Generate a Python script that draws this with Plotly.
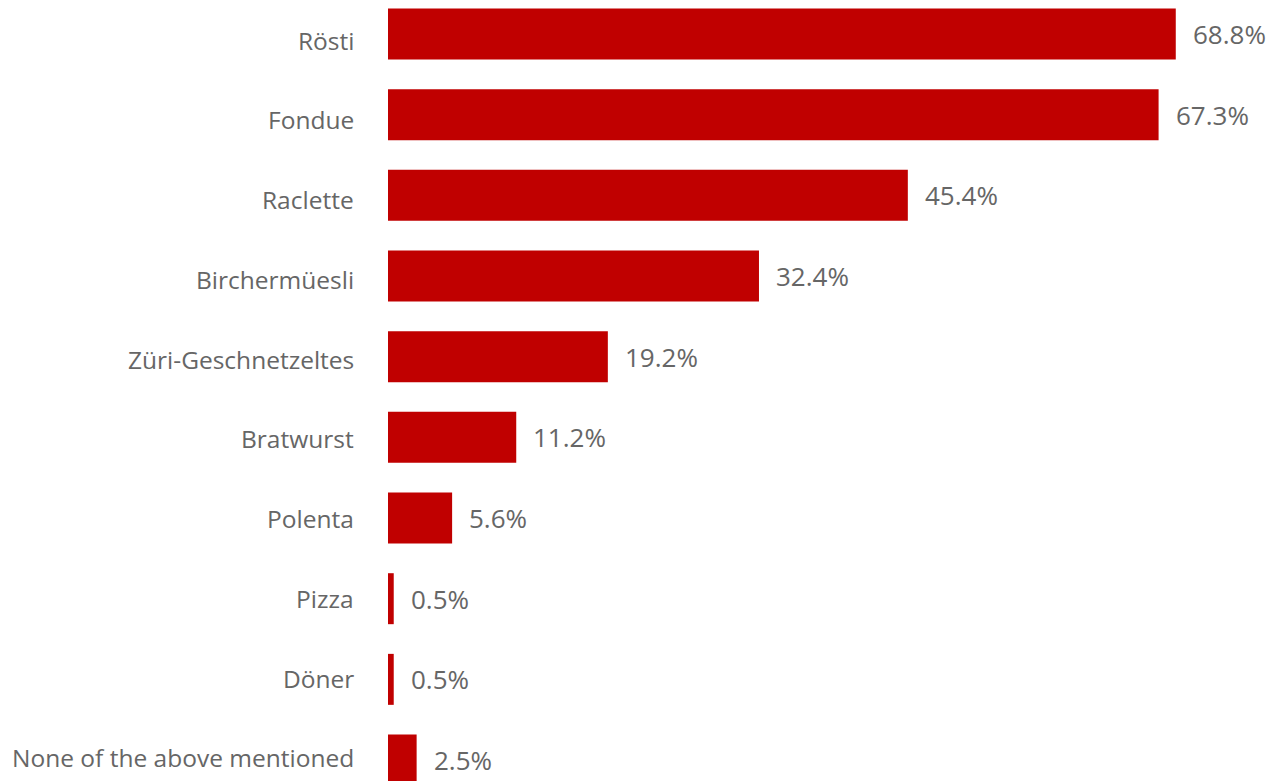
import plotly.graph_objects as go

# Survey shares per dish, listed top to bottom
dishes = [
    "Rösti", "Fondue", "Raclette", "Birchermüesli", "Züri-Geschnetzeltes",
    "Bratwurst", "Polenta", "Pizza", "Döner", "None of the above mentioned",
]
shares = [68.8, 67.3, 45.4, 32.4, 19.2, 11.2, 5.6, 0.5, 0.5, 2.5]
share_labels = [f"{v}%" for v in shares]

BAR_COLOR = "#C00000"
TEXT_COLOR = "#666666"
FONT = "Open Sans"

fig = go.Figure(
    go.Bar(
        x=shares,
        y=dishes,
        orientation="h",
        marker=dict(color=BAR_COLOR, line=dict(width=0)),
        hoverinfo="skip",
    )
)

# value labels just right of each bar end
for d, v, lab in zip(dishes, shares, share_labels):
    fig.add_annotation(
        x=v, y=d, text=lab, showarrow=False,
        xanchor="left", yanchor="middle", xshift=15,
        font=dict(family=FONT, size=26, color=TEXT_COLOR),
    )

# category names to the left of the bars; the label rows drift slightly
# against the bar rows, from a bit low at the top to a bit high at the bottom
for i, d in enumerate(dishes):
    fig.add_annotation(
        x=0, xref="paper", y=d, text=d, showarrow=False,
        xanchor="right", yanchor="middle", xshift=-32,
        yshift=-(6.0 - 0.9 * i),
        font=dict(family=FONT, size=24.5, color=TEXT_COLOR),
    )

fig.update_layout(
    width=1270,
    height=781,
    margin=dict(l=388, r=0, t=0, b=0),
    paper_bgcolor="white",
    plot_bgcolor="white",
    bargap=0.368,
    showlegend=False,
    font=dict(family=FONT, size=24, color=TEXT_COLOR),
)
fig.update_xaxes(
    range=[0, 77.03], visible=False, showgrid=False, zeroline=False,
)
fig.update_yaxes(
    categoryorder="array", categoryarray=dishes,
    range=[9.26, -0.4215],
    showgrid=False, zeroline=False, showline=False,
    ticks="", showticklabels=False,
)

fig.write_html("out.html")
